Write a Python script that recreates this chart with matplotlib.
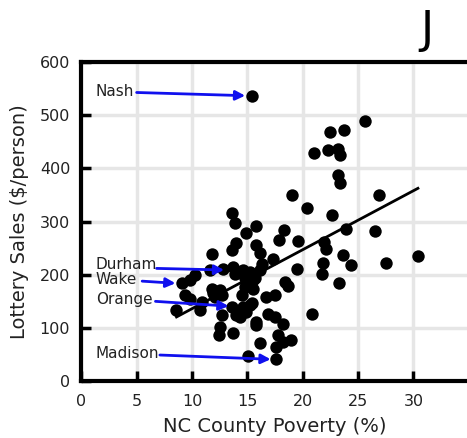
import matplotlib
matplotlib.use('Agg')
import matplotlib.pyplot as plt
import numpy as np

# poverty (%) and lottery sales ($/person) per county
poverty = [15.4,
    25.6, 22.5, 23.7, 21.0, 22.3, 23.2, 23.4, 23.2, 23.4, 19.0, 26.9, 20.4, 22.6,
    23.9, 26.5, 19.6, 21.9, 22.1, 23.6, 24.4, 21.8, 27.5, 30.4, 19.5, 21.7, 23.3, 20.8,
    13.6, 13.9, 15.8, 14.9, 18.3, 17.9, 14.0, 13.6, 15.8, 16.1, 11.8, 17.3, 12.8, 11.6,
    13.7, 13.9, 14.6, 14.8, 16.1, 15.5, 15.5, 15.1, 14.5, 18.4, 18.7, 10.3, 9.8, 9.1,
    9.4, 9.8, 8.6, 10.9, 10.7, 11.8, 11.9, 12.5, 12.7, 13.6, 14.0, 14.6, 15.2, 14.9,
    12.7, 16.7, 17.5, 16.9, 17.5, 15.8, 15.8, 18.2, 18.9, 12.5, 12.4, 13.7, 17.8, 18.2,
    16.1, 17.6, 15.1, 17.6, 15.2, 15.7, 15.4, 12.1, 14.3, 14.8, 16.3, 14.8]
sales = [537,
    489, 469, 472, 429, 434, 437, 425, 387, 372, 350, 350, 326, 313,
    287, 282, 263, 262, 249, 237, 219, 223, 222, 235, 210, 201, 184, 127,
    316, 298, 291, 279, 285, 266, 260, 247, 256, 241, 240, 229, 210, 209,
    215, 202, 209, 193, 209, 190, 174, 180, 162, 187, 179, 199, 190, 184,
    162, 154, 133, 149, 133, 174, 165, 171, 162, 140, 124, 140, 143, 130,
    124, 158, 162, 127, 121, 105, 112, 108, 78, 102, 86, 91, 86, 74,
    71, 64, 47, 41, 205, 193, 146, 158, 121, 133, 220, 177]

labels = ['Nash', 'Durham', 'Wake', 'Orange', 'Madison']
label_pos = [(1.3, 545), (1.3, 220), (1.3, 192), (1.3, 154), (1.3, 51)]
arrow_from = [(5.0, 543), (6.8, 212), (5.5, 188), (6.7, 150), (7.1, 49)]
arrow_to = [(14.8, 537), (12.9, 209), (8.5, 184), (13.3, 141), (17.1, 41)]

fig = plt.figure(figsize=(4.67, 4.38), dpi=100)
ax = fig.add_axes([0.174, 0.130, 0.830, 0.728])

ax.scatter(poverty, sales, s=80, color='black', zorder=3, linewidths=0)

# least squares line
m, b = np.polyfit(poverty, sales, 1)
xs = np.array([min(poverty), max(poverty)])
ax.plot(xs, m * xs + b, color='black', lw=2, zorder=4)

for lab, p, a0, a1 in zip(labels, label_pos, arrow_from, arrow_to):
    ax.text(p[0], p[1], lab, fontsize=11, va='center', ha='left', color='#222222')
    ax.annotate('', xy=a1, xytext=a0,
                arrowprops=dict(arrowstyle='-|>', color='#1010ee', lw=2,
                                mutation_scale=14, shrinkA=0, shrinkB=0),
                zorder=5)

ax.set_xlim(0, 35)
ax.set_ylim(0, 600)
ax.set_xticks(range(0, 31, 5))
ax.set_yticks(range(0, 601, 100))
ax.grid(True, color='#e6e6e6', lw=2.5, zorder=0)
ax.set_axisbelow(True)
ax.tick_params(direction='in', length=7, width=2.5, labelsize=11.5,
               labelcolor='#222222')
ax.tick_params(axis='x', pad=9)
ax.tick_params(axis='y', pad=8)
for side in ['left', 'bottom', 'top']:
    ax.spines[side].set_linewidth(3)
ax.spines['right'].set_visible(False)

ax.set_xlabel('NC County Poverty (%)', fontsize=14, labelpad=6, color='#222222')
ax.set_ylabel('Lottery Sales ($/person)', fontsize=14, labelpad=8, color='#222222')

fig.text(0.914, 0.93, 'J', fontsize=32, ha='center', va='center')

plt.savefig('out.png', dpi=100)
